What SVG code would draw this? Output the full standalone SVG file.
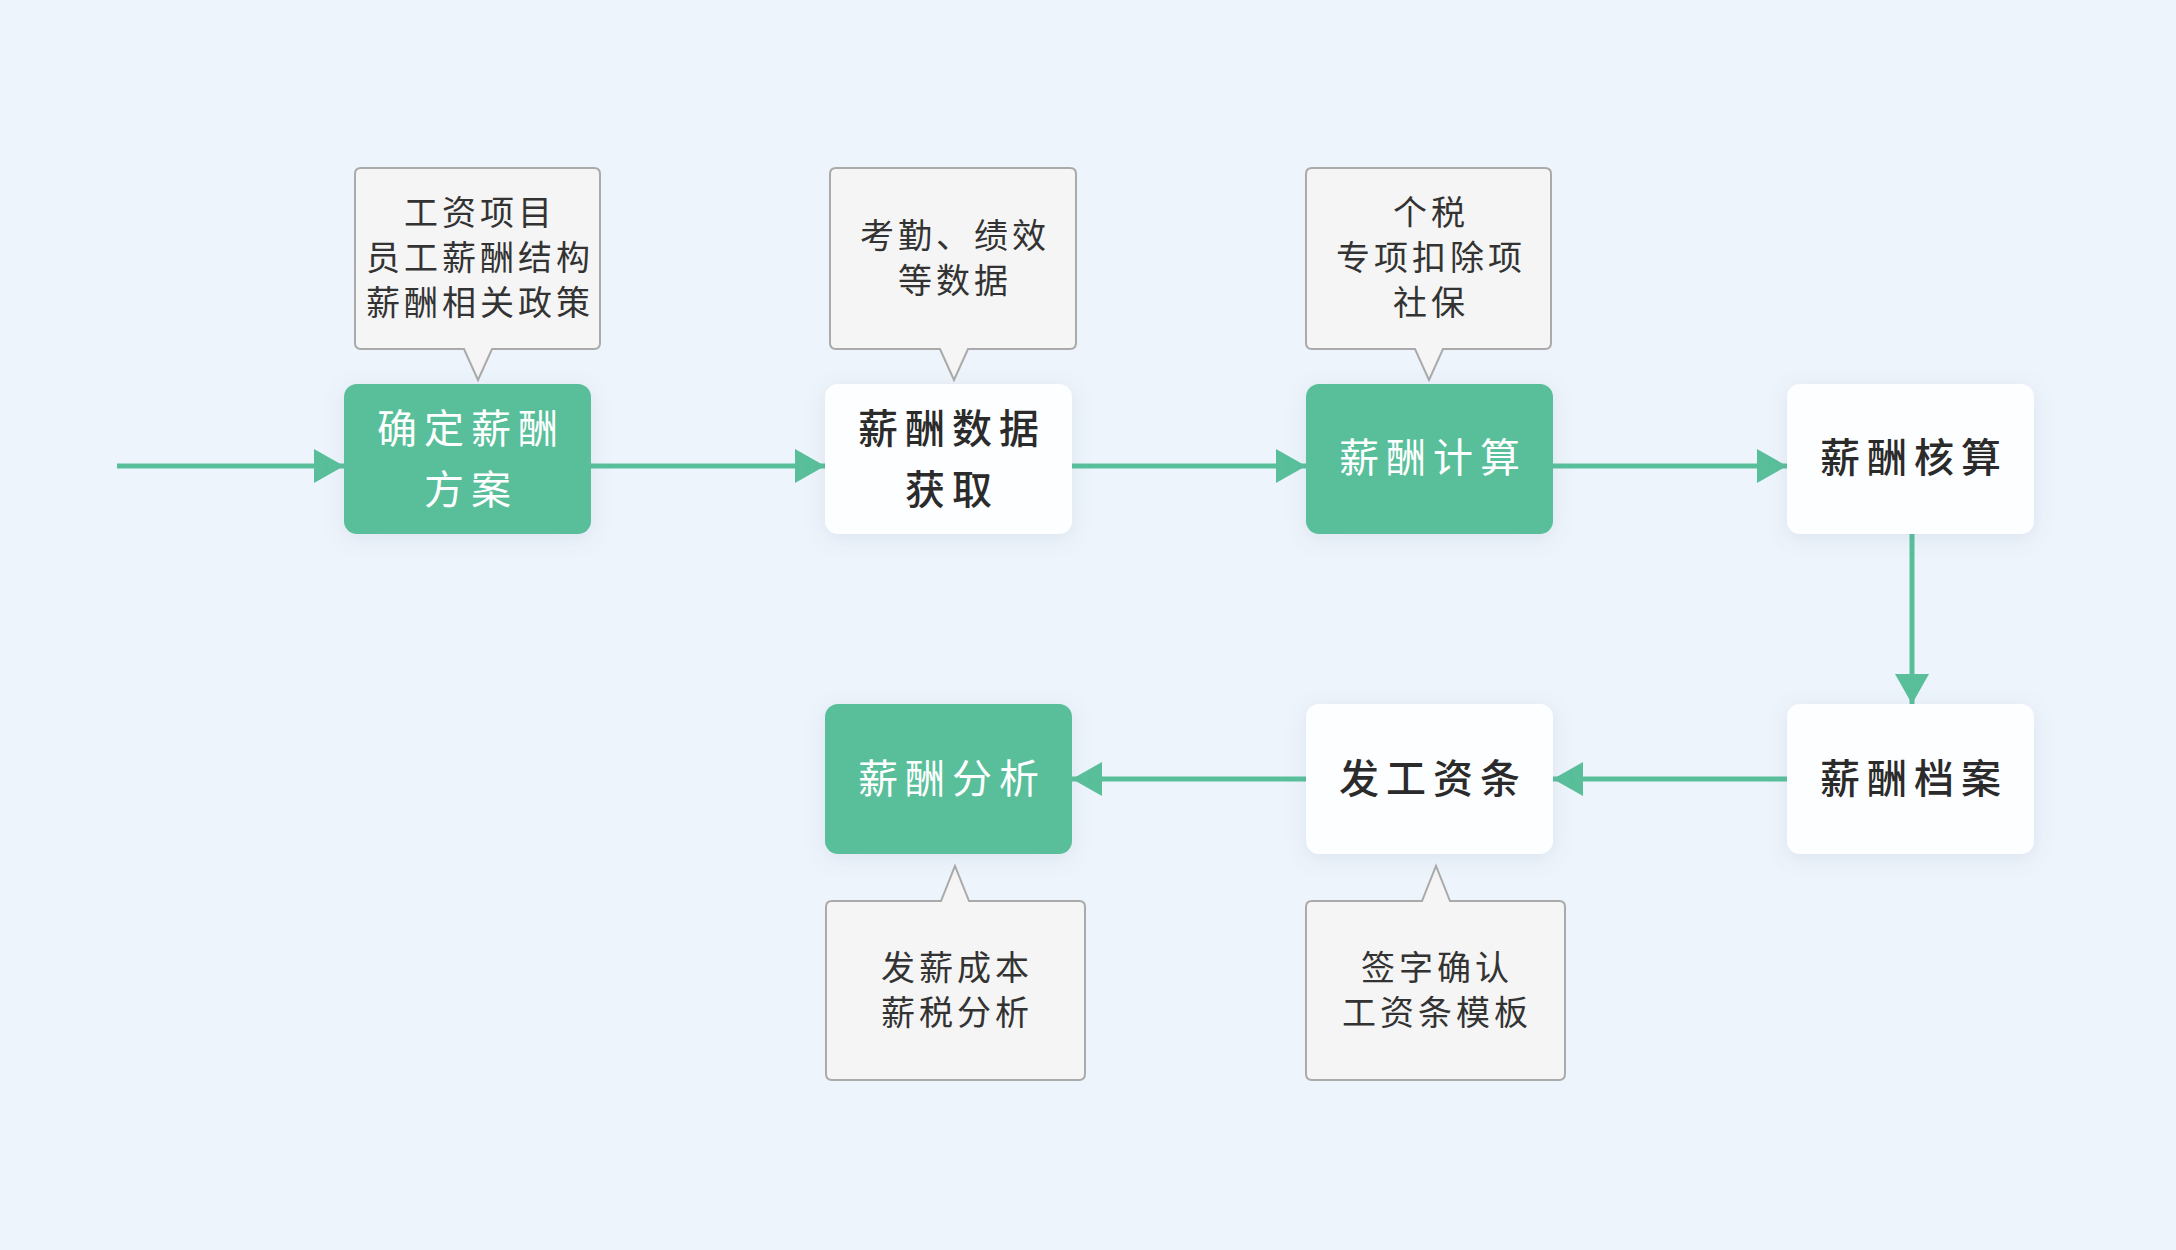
<svg xmlns="http://www.w3.org/2000/svg" width="2176" height="1250" viewBox="0 0 2176 1250">
<style>
.bg{fill:#EEF4FB}
.green{fill:#58BF9A}
.white{fill:#FDFEFF}
.callout{fill:#F5F5F5;stroke:#AAAAAA;stroke-width:2}
.conn{stroke:#58BF9A;stroke-width:5;fill:none}
.nt{font-family:"Noto Sans CJK SC","Noto Sans",sans-serif;font-size:40px;letter-spacing:7px;text-anchor:middle;dominant-baseline:central}
.nt-w{fill:#FFFFFF}
.nt-d{fill:#2B2B2B;font-weight:500}
.ct{font-family:"Noto Sans CJK SC","Noto Sans",sans-serif;font-size:34px;letter-spacing:4px;text-anchor:middle;dominant-baseline:central;fill:#333333}
</style>
<defs>
<filter id="sh" x="-20%" y="-20%" width="140%" height="140%">
<feDropShadow dx="0" dy="4" stdDeviation="10" flood-color="#6A86A8" flood-opacity="0.16"/>
</filter>
<marker id="ah" viewBox="0 0 30 34" refX="30" refY="17" markerWidth="30" markerHeight="34" markerUnits="userSpaceOnUse" orient="auto">
<path d="M0,0 L30,17 L0,34 z" fill="#58BF9A"/>
</marker>
</defs>
<rect class="bg" x="0" y="0" width="2176" height="1250"/>

<g id="connectors">
<line class="conn" x1="117" y1="466" x2="344" y2="466" marker-end="url(#ah)"/>
<line class="conn" x1="591" y1="466" x2="825" y2="466" marker-end="url(#ah)"/>
<line class="conn" x1="1072" y1="466" x2="1306" y2="466" marker-end="url(#ah)"/>
<line class="conn" x1="1553" y1="466" x2="1787" y2="466" marker-end="url(#ah)"/>
<line class="conn" x1="1912" y1="534" x2="1912" y2="704" marker-end="url(#ah)"/>
<line class="conn" x1="1787" y1="779" x2="1553" y2="779" marker-end="url(#ah)"/>
<line class="conn" x1="1306" y1="779" x2="1072" y2="779" marker-end="url(#ah)"/>
</g>

<g id="callout-1">
<path class="callout" d="M361,168 H594 Q600,168 600,174 V343 Q600,349 594,349 H492 L478,380 L464,349 H361 Q355,349 355,343 V174 Q355,168 361,168 Z"/>
<text class="ct" x="480" y="210">工资项目</text>
<text class="ct" x="480" y="255">员工薪酬结构</text>
<text class="ct" x="480" y="300">薪酬相关政策</text>
</g>
<g id="callout-2">
<path class="callout" d="M836,168 H1070 Q1076,168 1076,174 V343 Q1076,349 1070,349 H968 L954,380 L940,349 H836 Q830,349 830,343 V174 Q830,168 836,168 Z"/>
<text class="ct" x="955" y="233">考勤、绩效</text>
<text class="ct" x="955" y="278">等数据</text>
</g>
<g id="callout-3">
<path class="callout" d="M1312,168 H1545 Q1551,168 1551,174 V343 Q1551,349 1545,349 H1443 L1429,380 L1415,349 H1312 Q1306,349 1306,343 V174 Q1306,168 1312,168 Z"/>
<text class="ct" x="1431" y="210">个税</text>
<text class="ct" x="1431" y="255">专项扣除项</text>
<text class="ct" x="1431" y="300">社保</text>
</g>
<g id="callout-4">
<path class="callout" d="M832,901 H941 L955,866 L969,901 H1079 Q1085,901 1085,907 V1074 Q1085,1080 1079,1080 H832 Q826,1080 826,1074 V907 Q826,901 832,901 Z"/>
<text class="ct" x="957" y="965">发薪成本</text>
<text class="ct" x="957" y="1010">薪税分析</text>
</g>
<g id="callout-5">
<path class="callout" d="M1312,901 H1422 L1436,866 L1450,901 H1559 Q1565,901 1565,907 V1074 Q1565,1080 1559,1080 H1312 Q1306,1080 1306,1074 V907 Q1306,901 1312,901 Z"/>
<text class="ct" x="1437" y="965">签字确认</text>
<text class="ct" x="1437" y="1010">工资条模板</text>
</g>

<g id="node-1">
<rect class="green" x="344" y="384" width="247" height="150" rx="13" filter="url(#sh)"/>
<text class="nt nt-w" x="471" y="426">确定薪酬</text>
<text class="nt nt-w" x="471" y="487">方案</text>
</g>
<g id="node-2">
<rect class="white" x="825" y="384" width="247" height="150" rx="13" filter="url(#sh)"/>
<text class="nt nt-d" x="952" y="426">薪酬数据</text>
<text class="nt nt-d" x="952" y="487">获取</text>
</g>
<g id="node-3">
<rect class="green" x="1306" y="384" width="247" height="150" rx="13" filter="url(#sh)"/>
<text class="nt nt-w" x="1433" y="455">薪酬计算</text>
</g>
<g id="node-4">
<rect class="white" x="1787" y="384" width="247" height="150" rx="13" filter="url(#sh)"/>
<text class="nt nt-d" x="1914" y="455">薪酬核算</text>
</g>
<g id="node-5">
<rect class="white" x="1787" y="704" width="247" height="150" rx="13" filter="url(#sh)"/>
<text class="nt nt-d" x="1914" y="776">薪酬档案</text>
</g>
<g id="node-6">
<rect class="white" x="1306" y="704" width="247" height="150" rx="13" filter="url(#sh)"/>
<text class="nt nt-d" x="1433" y="776">发工资条</text>
</g>
<g id="node-7">
<rect class="green" x="825" y="704" width="247" height="150" rx="13" filter="url(#sh)"/>
<text class="nt nt-w" x="952" y="776">薪酬分析</text>
</g>
</svg>
